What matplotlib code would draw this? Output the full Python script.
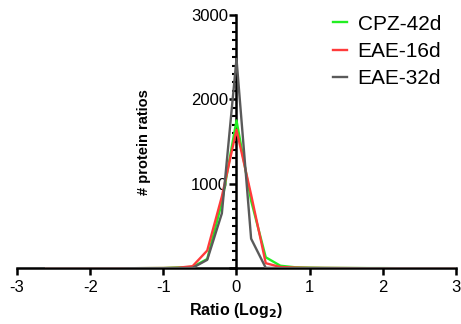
#!/usr/bin/env python3

# import modules
from matplotlib import pyplot as plt
from matplotlib.ticker import MultipleLocator, FuncFormatter
import numpy as np

plt.rcParams['font.family'] = ['Liberation Sans', 'DejaVu Sans']
plt.rcParams['axes.unicode_minus'] = False

# histogram of log2 ratios, bins of 0.2
ratio = np.round(np.arange(-2.6, 3.01, 0.2), 1)

cpz_42d = [0, 0, 0, 0, 0, 1, 1, 2, 3, 10, 15, 110, 780, 1750, 800, 130, 30, 12,
           8, 5, 4, 3, 2, 2, 1, 1, 1, 0, 0]
eae_16d = [0, 0, 0, 0, 0, 1, 1, 2, 3, 6, 25, 210, 850, 1640, 870, 60, 15, 8,
           5, 4, 3, 2, 1, 1, 1, 0, 0, 0, 0]
eae_32d = [0, 0, 0, 0, 0, 0, 1, 1, 1, 2, 5, 100, 650, 2480, 350, 5, 2, 1,
           1, 1, 0, 0, 0, 0, 0, 0, 0, 0, 0]

series = [('CPZ-42d', cpz_42d, '#22ee22'),
          ('EAE-16d', eae_16d, '#ff3b3b'),
          ('EAE-32d', eae_32d, '#5a5a5a')]

# plot
fig = plt.figure(figsize=(4.61, 3.24), dpi=100)
ax = fig.add_axes([0.037, 0.172, 0.952, 0.782])

for label, values, color in series:
	ax.plot(ratio, values, color=color, lw=1.7, label=label)

ax.set_xlim(-3, 3)
ax.set_ylim(0, 3000)

# axes crossing at the origin
ax.spines['left'].set_position(('data', 0))
ax.spines['top'].set_visible(False)
ax.spines['right'].set_visible(False)
for s in ('left', 'bottom'):
	ax.spines[s].set_linewidth(1.8)
	ax.spines[s].set_zorder(1)

ax.xaxis.set_major_locator(MultipleLocator(1))
ax.yaxis.set_major_locator(MultipleLocator(1000))
ax.yaxis.set_minor_locator(MultipleLocator(100))
ax.yaxis.set_major_formatter(FuncFormatter(lambda v, p: '' if v == 0 else '%d' % v))
ax.tick_params(axis='both', which='major', direction='out', length=5, width=1.8, labelsize=12)
ax.tick_params(axis='y', which='major', pad=1)
ax.tick_params(axis='y', which='minor', direction='out', length=3, width=1.5)

ax.set_xlabel('Ratio (Log$_\\mathbf{2}$)', fontsize=11.5, fontweight='bold', labelpad=4)
ax.text(-1.26, 1500, '# protein ratios', rotation=90, fontsize=10.5, fontweight='bold',
	ha='center', va='center')

leg = ax.legend(loc='upper left', bbox_to_anchor=(0.69, 1.0), bbox_transform=fig.transFigure,
	frameon=False, fontsize=15, handlelength=0.7, handletextpad=0.5, labelspacing=0.4, borderpad=0.2)

# write to disk
plt.savefig('out.png', dpi=100)
